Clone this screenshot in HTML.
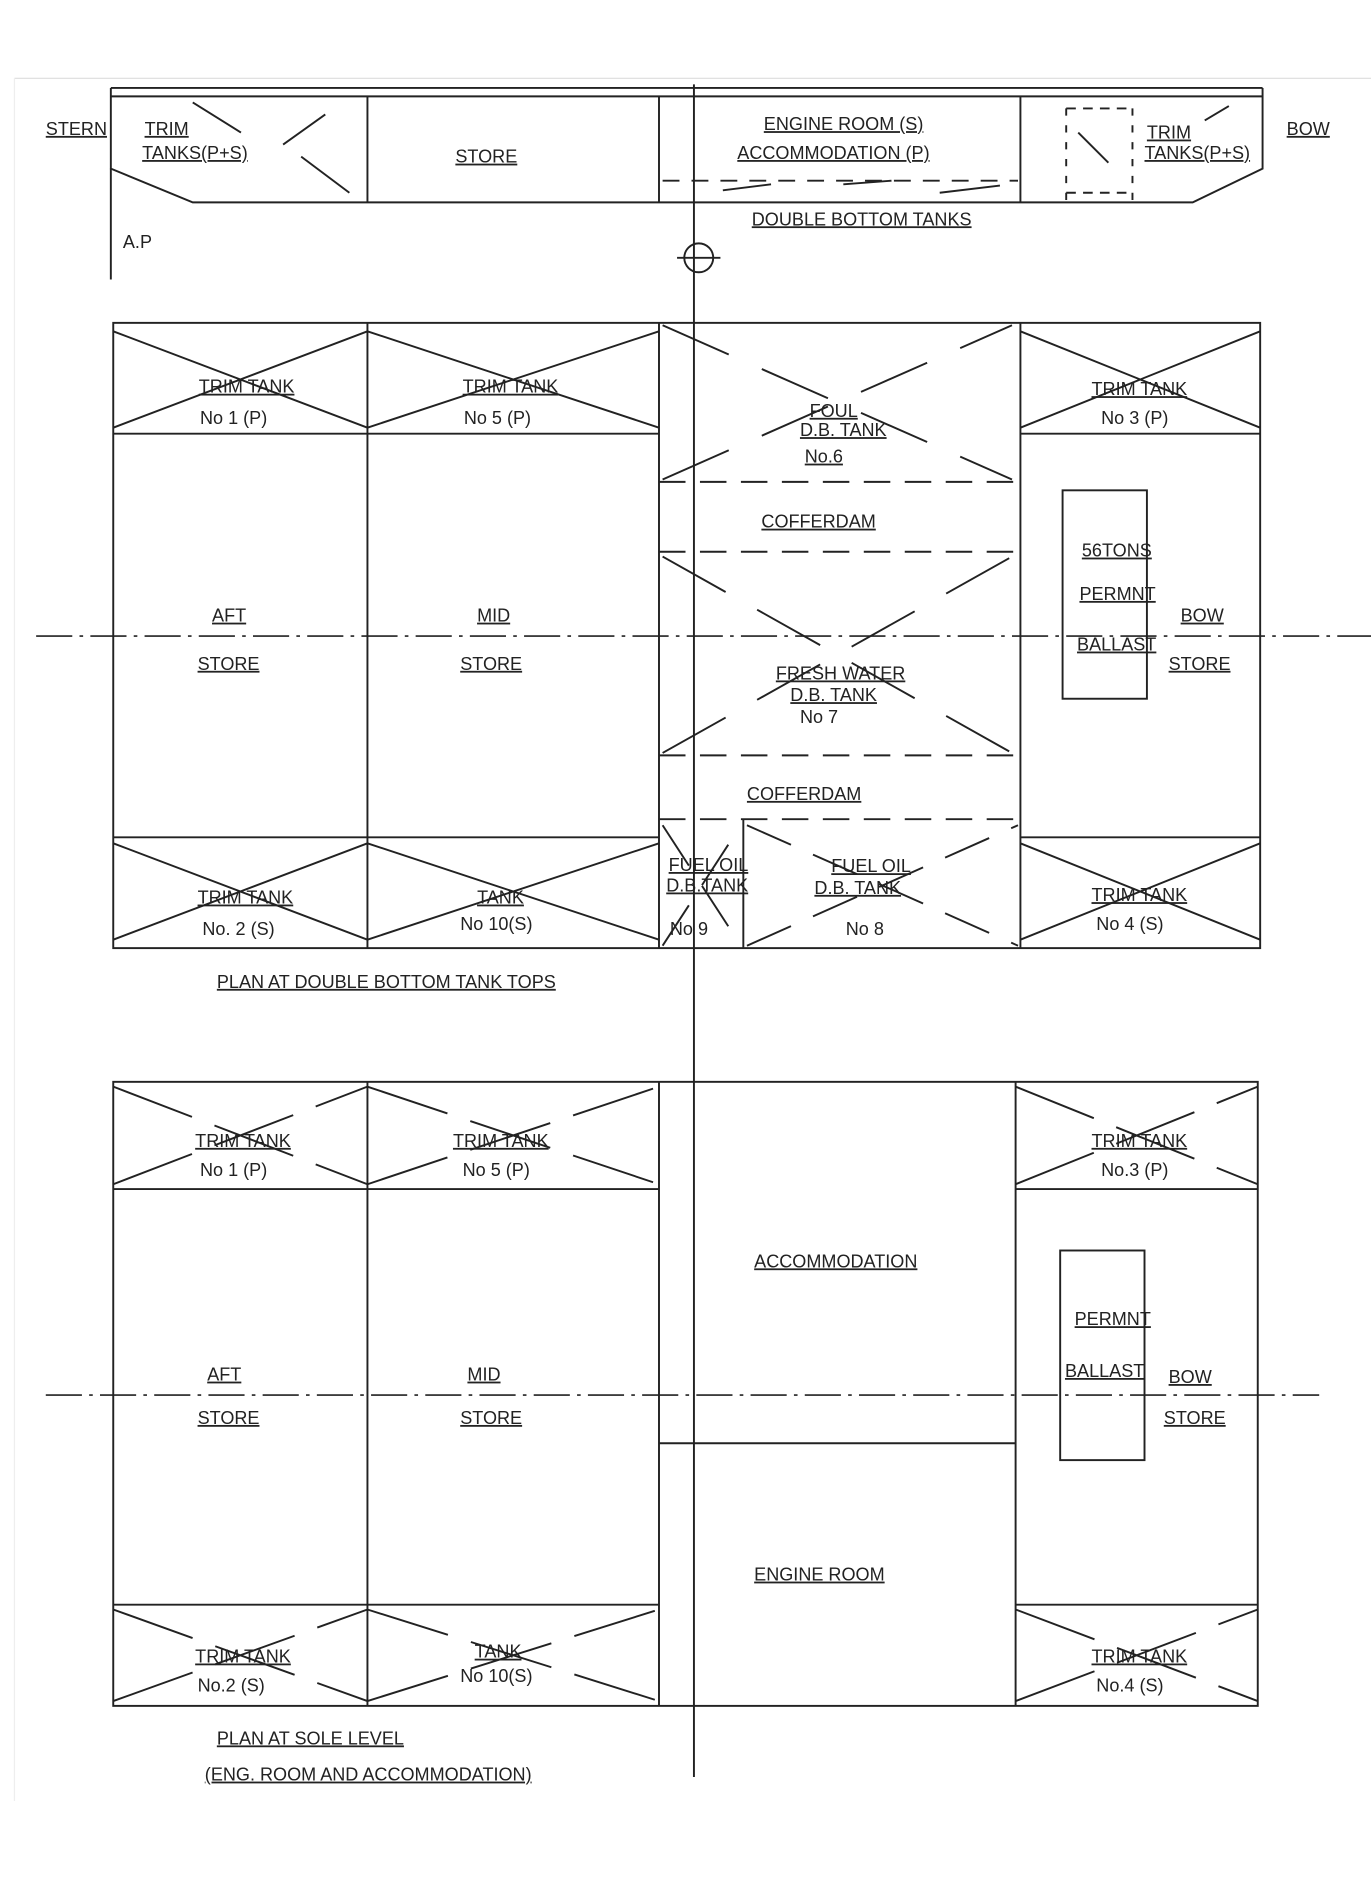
<!DOCTYPE html>
<html><head><style>
html,body{margin:0;padding:0;background:#fff;}
svg{display:block}
text{font-family:"Liberation Sans",sans-serif;fill:#222;font-size:15px;text-decoration:underline;}
text.nu{text-decoration:none;}
</style></head><body>
<svg width="1371" height="1889" viewBox="0 0 1138 1568" preserveAspectRatio="none" xmlns="http://www.w3.org/2000/svg">
<rect width="1138" height="1568" fill="#fff"/>
<line x1="12" y1="65" x2="1138" y2="65" stroke="#ddd" stroke-width="1"/>
<line x1="12" y1="65" x2="12" y2="1495" stroke="#eee" stroke-width="1"/>
<g stroke="#222" stroke-width="1.6" fill="none">
<line x1="92" y1="73" x2="1048" y2="73"/>
<line x1="92" y1="80" x2="1048" y2="80"/>
<polyline points="92,73 92,140 160,168 990,168 1048,140 1048,73"/>
<line x1="92" y1="140" x2="92" y2="232"/>
<line x1="305" y1="80" x2="305" y2="168"/>
<line x1="547" y1="80" x2="547" y2="168"/>
<line x1="847" y1="80" x2="847" y2="168"/>
<line x1="235" y1="120" x2="270" y2="95" /><line x1="250" y1="130" x2="290" y2="160"/>
<line x1="160" y1="85" x2="200" y2="110"/>
<path d="M550 150 H845" stroke-dasharray="14 10"/>
<path d="M600 158 L640 153 M700 153 L740 150 M780 160 L830 154" />
<path d="M885 90 H940 M885 160 H940" stroke-dasharray="8 6"/>
<line x1="885" y1="90" x2="885" y2="168" stroke-dasharray="6 8"/>
<line x1="940" y1="90" x2="940" y2="168" stroke-dasharray="6 8"/>
<line x1="895" y1="110" x2="920" y2="135"/><line x1="1000" y1="100" x2="1020" y2="88"/>
<line x1="576" y1="70" x2="576" y2="1475"/>
<circle cx="580" cy="214" r="12"/>
<line x1="562" y1="214" x2="598" y2="214"/>

<rect x="94" y="268" width="952" height="519"/>
<line x1="94" y1="360" x2="547" y2="360"/>
<line x1="847" y1="360" x2="1046" y2="360"/>
<line x1="94" y1="695" x2="547" y2="695"/>
<line x1="847" y1="695" x2="1046" y2="695"/>
<line x1="305" y1="268" x2="305" y2="787"/>
<line x1="547" y1="268" x2="547" y2="787"/>
<line x1="847" y1="268" x2="847" y2="787"/>
<line x1="617" y1="680" x2="617" y2="787"/>
<path d="M547 400 H845 M547 458 H845 M547 627 H845 M547 680 H845" stroke-dasharray="22 12"/>
<path d="M94 275 L305 355 M94 355 L305 275 M305 275 L547 355 M305 355 L547 275 M847 275 L1046 355 M847 355 L1046 275"/>
<path d="M94 700 L305 780 M94 780 L305 700 M305 700 L547 780 M305 780 L547 700 M847 700 L1046 780 M847 780 L1046 700"/>
<path d="M550 270 L840 398 M550 398 L840 270 M550 462 L840 625 M550 625 L840 462" stroke-dasharray="60 30"/>
<path d="M550 685 L615 785 M550 785 L615 685 M620 685 L845 785 M620 785 L845 685" stroke-dasharray="40 20"/>
<rect x="882" y="407" width="70" height="173"/>
<path d="M30 528 H1138" stroke-dasharray="30 6 3 6" stroke-width="1.3"/>

<rect x="94" y="898" width="950" height="518"/>
<line x1="94" y1="987" x2="547" y2="987"/>
<line x1="843" y1="987" x2="1044" y2="987"/>
<line x1="94" y1="1332" x2="547" y2="1332"/>
<line x1="843" y1="1332" x2="1044" y2="1332"/>
<line x1="305" y1="898" x2="305" y2="1416"/>
<line x1="547" y1="898" x2="547" y2="1416"/>
<line x1="843" y1="898" x2="843" y2="1416"/>
<line x1="547" y1="1198" x2="843" y2="1198"/>
<path d="M94 902 L305 983 M94 983 L305 902 M305 902 L547 983 M305 983 L547 902 M843 902 L1044 983 M843 983 L1044 902" stroke-dasharray="70 20"/>
<path d="M94 1336 L305 1412 M94 1412 L305 1336 M305 1336 L547 1412 M305 1412 L547 1336 M843 1336 L1044 1412 M843 1412 L1044 1336" stroke-dasharray="70 20"/>
<rect x="880" y="1038" width="70" height="174"/>
<path d="M38 1158 H1095" stroke-dasharray="30 6 3 6" stroke-width="1.3"/>
</g>
<g>
<text x="38" y="112">STERN</text>
<text x="120" y="112" font-size="12">TRIM</text>
<text x="118" y="132" font-size="12">TANKS(P+S)</text>
<text x="378" y="135" font-size="13">STORE</text>
<text x="634" y="108" font-size="14">ENGINE ROOM (S)</text>
<text x="612" y="132" font-size="14">ACCOMMODATION (P)</text>
<text x="624" y="187" font-size="13">DOUBLE BOTTOM TANKS</text>
<text x="952" y="115" font-size="12">TRIM</text>
<text x="950" y="132" font-size="12">TANKS(P+S)</text>
<text x="1068" y="112">BOW</text>
<text class="nu" x="102" y="206" font-size="12">A.P</text>

<text x="165" y="326" font-size="12">TRIM TANK</text>
<text class="nu" x="166" y="352">No 1 (P)</text>
<text x="384" y="326" font-size="12">TRIM TANK</text>
<text class="nu" x="385" y="352">No 5 (P)</text>
<text x="672" y="346" font-size="12">FOUL</text>
<text x="664" y="362" font-size="12">D.B. TANK</text>
<text x="668" y="384" font-size="13">No.6</text>
<text x="906" y="328" font-size="12">TRIM TANK</text>
<text class="nu" x="914" y="352">No 3 (P)</text>
<text x="632" y="438">COFFERDAM</text>
<text x="898" y="462" font-size="11">56TONS</text>
<text x="896" y="498" font-size="11">PERMNT</text>
<text x="894" y="540" font-size="11">BALLAST</text>
<text x="176" y="516">AFT</text>
<text x="164" y="556">STORE</text>
<text x="396" y="516">MID</text>
<text x="382" y="556">STORE</text>
<text x="980" y="516">BOW</text>
<text x="970" y="556">STORE</text>
<text x="644" y="564" font-size="13">FRESH WATER</text>
<text x="656" y="582" font-size="13">D.B. TANK</text>
<text class="nu" x="664" y="600" font-size="12">No 7</text>
<text x="620" y="664">COFFERDAM</text>
<text x="555" y="723" font-size="10">FUEL OIL</text>
<text x="553" y="740" font-size="10">D.B.TANK</text>
<text class="nu" x="556" y="776" font-size="12">No 9</text>
<text x="690" y="724" font-size="12">FUEL OIL</text>
<text x="676" y="742" font-size="12">D.B. TANK</text>
<text class="nu" x="702" y="776" font-size="14">No 8</text>
<text x="164" y="750" font-size="12">TRIM TANK</text>
<text class="nu" x="168" y="776">No. 2 (S)</text>
<text x="396" y="750">TANK</text>
<text class="nu" x="382" y="772">No 10(S)</text>
<text x="906" y="748" font-size="12">TRIM TANK</text>
<text class="nu" x="910" y="772">No 4 (S)</text>
<text x="180" y="820" font-size="14">PLAN AT DOUBLE BOTTOM TANK TOPS</text>

<text x="162" y="952" font-size="12">TRIM TANK</text>
<text class="nu" x="166" y="976">No 1 (P)</text>
<text x="376" y="952" font-size="12">TRIM TANK</text>
<text class="nu" x="384" y="976">No 5 (P)</text>
<text x="906" y="952" font-size="12">TRIM TANK</text>
<text class="nu" x="914" y="976">No.3 (P)</text>
<text x="626" y="1052" font-size="14">ACCOMMODATION</text>
<text x="892" y="1100" font-size="11">PERMNT</text>
<text x="884" y="1143" font-size="11">BALLAST</text>
<text x="970" y="1148">BOW</text>
<text x="966" y="1182">STORE</text>
<text x="172" y="1146">AFT</text>
<text x="164" y="1182">STORE</text>
<text x="388" y="1146">MID</text>
<text x="382" y="1182">STORE</text>
<text x="626" y="1312" font-size="14">ENGINE ROOM</text>
<text x="162" y="1380" font-size="12">TRIM TANK</text>
<text class="nu" x="164" y="1404">No.2 (S)</text>
<text x="394" y="1376">TANK</text>
<text class="nu" x="382" y="1396">No 10(S)</text>
<text x="906" y="1380" font-size="12">TRIM TANK</text>
<text class="nu" x="910" y="1404">No.4 (S)</text>
<text x="180" y="1448" font-size="15">PLAN AT SOLE LEVEL</text>
<text x="170" y="1478" font-size="13">(ENG. ROOM AND ACCOMMODATION)</text>
</g>
</svg>
</body></html>
